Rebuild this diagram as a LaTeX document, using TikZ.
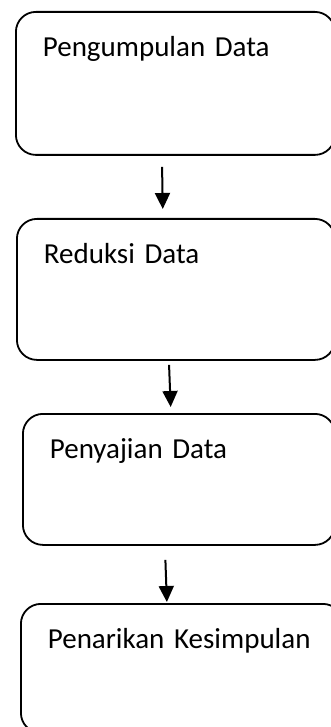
\documentclass[tikz,border=0pt]{standalone}
\usepackage{fontspec}
\setmainfont{Carlito}
\usetikzlibrary{arrows.meta}

\begin{document}
\begin{tikzpicture}[x=1pt,y=-1pt,
  stage/.style={draw,line width=1.8pt,rounded corners=20pt,anchor=north west,
    inner xsep=27pt,inner ysep=0pt,align=left,text height=45pt,
    font=\fontsize{29}{35}\selectfont},
  flow/.style={line width=2pt,-{Triangle[width=15pt,length=16pt]}}]
  \useasboundingbox (0,0) rectangle (331,727);
  \node[stage,text width=265pt,text depth=98pt] (kumpul)   at (15,11)  {Pengumpulan Data};
  \node[stage,text width=264pt,text depth=96pt] (reduksi)  at (16,218) {Reduksi Data};
  \node[stage,text width=258pt,text depth=86pt] (sajian)   at (22,413) {Penyajian Data};
  \node[stage,text width=268pt,text depth=84pt] (simpulan) at (20,603) {Penarikan Kesimpulan};
  % arrows between the stages
  \draw[flow,shorten <=11pt,shorten >=9pt]
       ([xshift=-13.5pt]kumpul.south) -- ([xshift=-13pt]reduksi.north);
  \draw[flow,shorten <=4pt,shorten >=6pt]
       ([xshift=-7pt]reduksi.south) -- ([xshift=-8pt]sajian.north);
  \draw[flow,shorten <=14pt,shorten >=1pt]
       ([xshift=-14pt]sajian.south) -- ([xshift=-15pt]simpulan.north);
\end{tikzpicture}
\end{document}
